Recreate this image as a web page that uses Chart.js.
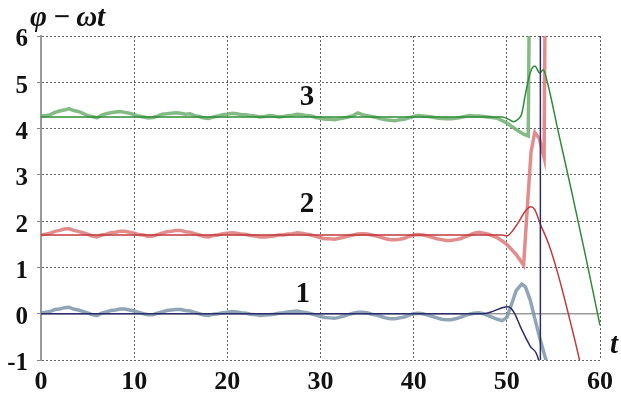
<!DOCTYPE html>
<html>
<head>
<meta charset="utf-8">
<script src="https://cdn.jsdelivr.net/npm/chart.js@4/dist/chart.umd.min.js"></script>
<style>
  html, body { margin: 0; padding: 0; background: #fff; }
  #phase-chart { display: block; }
  .font-warm { position: absolute; left: -999px; top: 0; font-family: "Liberation Serif"; font-weight: bold; }
  .font-warm i { font-style: italic; }
</style>
</head>
<body>
<span class="font-warm">0123456789 <i>φ−ωt</i></span>
<canvas id="phase-chart" width="621" height="394"></canvas>
<script>
// time grid for the flat part of the noisy curves
const tBody = [0, 0.5, 1, 1.5, 2, 2.5, 3, 3.5, 4, 4.5, 5, 5.5, 6, 6.5, 7, 7.5, 8, 8.5, 9, 9.5,
    10, 10.5, 11, 11.5, 12, 12.5, 13, 13.5, 14, 14.5, 15, 15.5, 16, 16.5, 17, 17.5, 18, 18.5, 19, 19.5,
    20, 20.5, 21, 21.5, 22, 22.5, 23, 23.5, 24, 24.5, 25, 25.5, 26, 26.5, 27, 27.5, 28, 28.5, 29, 29.5,
    30, 30.5, 31, 31.5, 32, 32.5, 33, 33.5, 34, 34.5, 35, 35.5, 36, 36.5, 37, 37.5, 38, 38.5, 39, 39.5,
    40, 40.5, 41, 41.5, 42, 42.5, 43, 43.5, 44, 44.5, 45, 45.5, 46, 46.5, 47, 47.5, 48];

// curve 3 (green)
const greenNoisy = [
    4.27, 4.28, 4.3, 4.35, 4.38, 4.4, 4.43, 4.39, 4.37, 4.33,
    4.28, 4.26, 4.23, 4.29, 4.32, 4.34, 4.36, 4.37, 4.35, 4.33,
    4.3, 4.27, 4.25, 4.23, 4.24, 4.27, 4.31, 4.32, 4.33, 4.34,
    4.33, 4.31, 4.32, 4.28, 4.26, 4.23, 4.22, 4.25, 4.27, 4.3,
    4.31, 4.33, 4.32, 4.3, 4.3, 4.28, 4.27, 4.25, 4.26, 4.28,
    4.27, 4.25, 4.26, 4.28, 4.29, 4.31, 4.3, 4.28, 4.27, 4.24,
    4.22, 4.2, 4.2, 4.19, 4.21, 4.23, 4.25, 4.28, 4.34, 4.3,
    4.28, 4.26, 4.24, 4.21, 4.19, 4.18, 4.17, 4.19, 4.2, 4.23,
    4.26, 4.28, 4.27, 4.26, 4.25, 4.23, 4.22, 4.21, 4.21, 4.22,
    4.24, 4.26, 4.28, 4.27, 4.27, 4.26, 4.25];
const greenNoisyTailT = [49, 50, 51, 51.8, 52.3, 52.4];
const greenNoisyTailV = [4.22, 4.12, 3.98, 3.88, 3.84, 6.5];
const greenSmoothT = [0, 49.5, 50.2, 50.7, 51.2, 51.6, 52, 52.5, 53, 53.55, 53.9, 54.35, 55.5, 57, 58.5, 60];
const greenSmoothV = [4.25, 4.25, 4.2, 4.15, 4.2, 4.32, 4.75, 5.2, 5.35, 5.2, 5.27, 5.0, 3.95, 2.6, 1.2, -0.25];

// curve 2 (red)
const redNoisy = [
    1.7, 1.72, 1.74, 1.78, 1.8, 1.83, 1.84, 1.8, 1.78, 1.75,
    1.72, 1.68, 1.66, 1.7, 1.72, 1.75, 1.76, 1.78, 1.78, 1.76,
    1.74, 1.71, 1.7, 1.67, 1.68, 1.71, 1.74, 1.77, 1.78, 1.8,
    1.8, 1.77, 1.76, 1.73, 1.7, 1.67, 1.66, 1.69, 1.7, 1.73,
    1.74, 1.75, 1.74, 1.72, 1.71, 1.69, 1.68, 1.66, 1.66, 1.67,
    1.68, 1.7, 1.7, 1.72, 1.73, 1.75, 1.74, 1.72, 1.7, 1.67,
    1.64, 1.62, 1.62, 1.61, 1.63, 1.65, 1.68, 1.7, 1.72, 1.73,
    1.72, 1.7, 1.68, 1.65, 1.62, 1.6, 1.6, 1.61, 1.63, 1.67,
    1.7, 1.71, 1.7, 1.68, 1.65, 1.62, 1.6, 1.58, 1.58, 1.6,
    1.62, 1.66, 1.7, 1.74, 1.76, 1.74, 1.72];
const redNoisyTailT = [49, 50, 51, 51.8, 52.2, 52.6, 53, 53.5, 54.0, 54.1];
const redNoisyTailV = [1.64, 1.5, 1.28, 1.05, 2.3, 3.5, 3.92, 3.78, 3.37, 6.5];
const redSmoothT = [0, 49.5, 50, 51, 52, 52.55, 53, 53.55, 54.5, 55.5, 56.6, 57.8, 58.1];
const redSmoothV = [1.7, 1.7, 1.68, 1.9, 2.22, 2.31, 2.25, 1.96, 1.5, 0.85, 0, -1, -1.3];

// curve 1 (blue)
const blueNoisy = [
    0.02, 0.03, 0.05, 0.09, 0.1, 0.13, 0.14, 0.1, 0.08, 0.05,
    0.02, -0.02, -0.04, 0.01, 0.04, 0.07, 0.08, 0.1, 0.1, 0.08,
    0.06, 0.03, 0.0, -0.02, -0.02, 0.01, 0.04, 0.07, 0.08, 0.09,
    0.09, 0.07, 0.06, 0.03, 0.0, -0.03, -0.04, -0.01, 0.0, 0.02,
    0.03, 0.05, 0.04, 0.02, 0.01, -0.01, -0.02, -0.04, -0.03, -0.02,
    -0.01, 0.01, 0.02, 0.04, 0.05, 0.06, 0.04, 0.02, 0.0, -0.03,
    -0.06, -0.08, -0.09, -0.1, -0.08, -0.05, -0.02, 0.01, 0.03, 0.03,
    0.02, -0.01, -0.03, -0.06, -0.09, -0.11, -0.11, -0.09, -0.07, -0.03,
    0.0, 0.01, 0.0, -0.03, -0.06, -0.09, -0.12, -0.13, -0.13, -0.11,
    -0.08, -0.04, -0.01, 0.01, 0.02, 0.0, -0.04];
const blueNoisyTailT = [49, 49.5, 50, 50.5, 51, 51.6, 52, 52.5, 53, 53.5, 54.2, 54.4];
const blueNoisyTailV = [-0.12, -0.15, -0.08, 0.2, 0.5, 0.64, 0.58, 0.3, -0.1, -0.5, -1.0, -1.2];
const blueSmoothT = [0, 47.5, 48.5, 49.5, 50.15, 50.8, 51.5, 52.5, 53.4, 53.6, 53.6];
const blueSmoothV = [0, 0, 0.05, 0.13, 0.15, 0.02, -0.3, -0.7, -1.0, -1.3, 6.5];

const xTicks = [0, 10, 20, 30, 40, 50, 60];
const yTicks = [-1, 0, 1, 2, 3, 4, 5, 6];

const curveLabels = ['1', '2', '3'];
const curveLabelT = [28.1, 28.55, 28.55];
const curveLabelV = [0.42, 2.36, 4.67];

function toPoints(ts, vs) {
    return ts.map((t, i) => ({ x: t, y: vs[i] }));
}

function noisy(tail, tailV, body) {
    return toPoints(tBody.concat(tail), body.concat(tailV));
}

const serif = '"Liberation Serif", "Times New Roman", Times, serif';

const textPlugin = {
    id: 'textPlugin',
    beforeDatasetsDraw(chart) {
        const ctx = chart.ctx;
        const xs = chart.scales.x;
        const ys = chart.scales.y;
        // solid zero line
        ctx.save();
        ctx.strokeStyle = '#9a9a9a';
        ctx.lineWidth = 1.5;
        ctx.beginPath();
        ctx.moveTo(xs.left, ys.getPixelForValue(0));
        ctx.lineTo(xs.right, ys.getPixelForValue(0));
        ctx.stroke();
        ctx.restore();
    },
    afterDraw(chart) {
        const ctx = chart.ctx;
        const xs = chart.scales.x;
        const ys = chart.scales.y;
        ctx.save();
        ctx.fillStyle = '#111';
        ctx.textAlign = 'center';
        ctx.textBaseline = 'middle';
        ctx.font = 'bold 29px ' + serif;
        curveLabels.forEach((lbl, i) => {
            ctx.fillText(lbl, xs.getPixelForValue(curveLabelT[i]), ys.getPixelForValue(curveLabelV[i]));
        });
        ctx.font = 'italic bold 29px ' + serif;
        ctx.textAlign = 'left';
        ctx.textBaseline = 'alphabetic';
        ctx.fillText('φ\u2009−\u2009ωt', 30, 26);
        ctx.textAlign = 'center';
        ctx.fillText('t', 614, 353);
        ctx.restore();
    }
};

const thin = { borderWidth: 1.5, pointRadius: 0, cubicInterpolationMode: 'monotone', order: 0 };
const thick = { borderWidth: 3.5, pointRadius: 0, tension: 0, order: 1 };

function drawChart() {
    const ctx = document.getElementById('phase-chart').getContext('2d');
    return new Chart(ctx, {
        type: 'line',
        data: {
            datasets: [
                Object.assign({ data: toPoints(blueSmoothT, blueSmoothV), borderColor: '#2b2e6b' }, thin),
                Object.assign({ data: toPoints(redSmoothT, redSmoothV), borderColor: '#c23a3c' }, thin),
                Object.assign({ data: toPoints(greenSmoothT, greenSmoothV), borderColor: '#2e8c38' }, thin),
                Object.assign({ data: noisy(blueNoisyTailT, blueNoisyTailV, blueNoisy), borderColor: 'rgba(125,150,170,0.85)' }, thick),
                Object.assign({ data: noisy(redNoisyTailT, redNoisyTailV, redNoisy), borderColor: 'rgba(222,120,120,0.85)' }, thick),
                Object.assign({ data: noisy(greenNoisyTailT, greenNoisyTailV, greenNoisy), borderColor: 'rgba(110,175,110,0.85)' }, thick)
            ]
        },
        plugins: [textPlugin],
        options: {
            responsive: false,
            animation: false,
            devicePixelRatio: 1,
            layout: { padding: { top: 36, right: 21, left: 0, bottom: 0 } },
            plugins: {
                legend: { display: false },
                tooltip: { enabled: false }
            },
            scales: {
                x: {
                    type: 'linear',
                    min: 0,
                    max: 60,
                    afterBuildTicks: (scale) => { scale.ticks = xTicks.map(v => ({ value: v })); },
                    afterFit: (scale) => { scale.height = 34; },
                    grid: { color: '#666', lineWidth: 1, drawTicks: false },
                    border: { display: false, dash: [2, 2] },
                    ticks: {
                        padding: 7,
                        color: '#111',
                        font: { family: serif, size: 26, weight: 'bold' },
                        maxRotation: 0
                    }
                },
                y: {
                    min: -1,
                    max: 6,
                    afterBuildTicks: (scale) => { scale.ticks = yTicks.map(v => ({ value: v })); },
                    afterFit: (scale) => { scale.width = 41; },
                    grid: { color: '#666', lineWidth: 1, drawTicks: true, tickLength: 4, tickColor: '#888' },
                    border: { display: true, color: '#9a9a9a', width: 2, dash: [2, 2] },
                    ticks: {
                        padding: 9,
                        labelOffset: 4,
                        color: '#111',
                        font: { family: serif, size: 25, weight: 'bold' }
                    }
                }
            }
        }
    });
}

let phaseChart = drawChart();
</script>
</body>
</html>
